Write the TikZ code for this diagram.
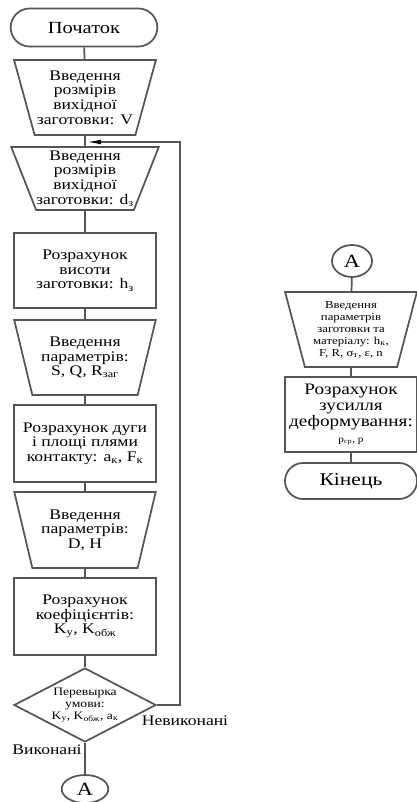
\documentclass[tikz,border=0pt]{standalone}
\usepackage{fontspec}
\setmainfont{Liberation Serif}[FakeStretch=1.2]
\usetikzlibrary{shapes.geometric,shapes.misc,arrows.meta}

\tikzset{every picture/.style={line width=1.3pt}}
\tikzset{
  fline/.style={draw={rgb, 255:red, 85; green, 85; blue, 85}},
  termbox/.style={fline, rounded rectangle, minimum width=110pt, minimum height=28.5pt, inner sep=0pt, font=\fontsize{12.8}{15}\selectfont},
  inbox/.style={fline, trapezium, shape border rotate=180, trapezium stretches=true, trapezium angle=70, minimum width=106.5pt, minimum height=56.25pt, inner sep=0pt, align=center, font=\fontsize{11}{11}\selectfont},
  calcbox/.style={fline, rectangle, minimum width=106.5pt, minimum height=56.25pt, inner sep=0pt, align=center, font=\fontsize{11}{11}\selectfont},
  testbox/.style={fline, diamond, aspect=2, minimum width=106.5pt, minimum height=55.5pt, inner sep=0pt, align=center, font=\fontsize{8.5}{9}\selectfont},
  joinbox/.style={fline, ellipse, inner sep=0pt, font=\fontsize{14}{16}\selectfont},
  flow/.style={draw={rgb, 255:red, 85; green, 85; blue, 85}},
  tag/.style={inner sep=0pt, font=\fontsize{11}{12}\selectfont}
}

\begin{document}
\begin{tikzpicture}[x=0.75pt,y=0.75pt,yscale=-1,xscale=1]
	\useasboundingbox (0,0) rectangle (417,802);

	%Shape: Terminal [id:start]
	\node [termbox] (start) at (84,27.5) {Початок};
	%Shape: Trapezoid [id:inV]
	\node [inbox] (inV) at (85,97.5) {Введення\\розмірів\\вихідної\\заготовки: V};
	%Shape: Trapezoid [id:inD]
	\node [inbox, minimum height=47.25pt, trapezium angle=66] (inD) at (85,178.5) {Введення\\розмірів\\вихідної\\заготовки: d\textsubscript{з}};
	%Shape: Rectangle [id:calcH]
	\node [calcbox] (calcH) at (85,270.5) {Розрахунок\\висоти\\заготовки: h\textsubscript{з}};
	%Shape: Trapezoid [id:inS]
	\node [inbox] (inS) at (85,357.5) {Введення\\параметрів:\\S, Q, R\textsubscript{заг}};
	%Shape: Rectangle [id:calcA]
	\node [calcbox, minimum height=57.75pt] (calcA) at (85,443.5) {Розрахунок дуги\\і площі плями\\контакту: a\textsubscript{к}, F\textsubscript{к}};
	%Shape: Trapezoid [id:inDH]
	\node [inbox, minimum height=57pt] (inDH) at (85,530) {Введення\\параметрів:\\D, H};
	%Shape: Rectangle [id:calcK]
	\node [calcbox, minimum height=57.75pt] (calcK) at (85,616.5) {Розрахунок\\коефіцієнтів:\\K\textsubscript{у}, K\textsubscript{обж}};
	%Shape: Diamond [id:check]
	\node [testbox] (check) at (85,705) {Перевырка\\умови:\\K\textsubscript{у}, K\textsubscript{обж}, a\textsubscript{к}};
	%Shape: Circle [id:outA]
	\node [joinbox, minimum width=35pt, minimum height=21pt] (outA) at (85,789) {A};

	%Shape: Circle [id:inA]
	\node [joinbox, minimum width=30pt, minimum height=24pt] (inA) at (352,261) {A};
	%Shape: Trapezoid [id:inMat]
	\node [inbox, minimum width=99pt, trapezium angle=74, font=\fontsize{8}{9}\selectfont] (inMat) at (351,329.5) {Введення\\параметрів\\заготовки та\\матеріалу: h\textsubscript{к},\\F, R, σ\textsubscript{т}, ε, n};
	%Shape: Rectangle [id:calcP]
	\node [calcbox, minimum width=99pt, font=\fontsize{12}{12}\selectfont] (calcP) at (351,414.5) {Розрахунок\\зусилля\\деформування:\\{\fontsize{7}{9}\selectfont p\textsubscript{ср}, p}};
	%Shape: Terminal [id:stop]
	\node [termbox, minimum width=99pt, minimum height=27pt, font=\fontsize{13.5}{15}\selectfont] (stop) at (351,481) {Кінець};

	%Straight Lines
	\coordinate (join) at (85,142);
	\coordinate (loop) at (180,142);
	\draw [flow] (start) -- (inV);
	\draw [flow] (inV) -- (inD);
	\draw [flow] (inD) -- (calcH);
	\draw [flow] (calcH) -- (inS);
	\draw [flow] (inS) -- (calcA);
	\draw [flow] (calcA) -- (inDH);
	\draw [flow] (inDH) -- (calcK);
	\draw [flow] (calcK) -- (check);
	\draw [flow] (check) -- (outA);
	\draw [flow, -{Latex[length=12pt,width=3.5pt,black]}] (check.east) -| (loop) -- (join);

	\draw [flow] (inA) -- (inMat);
	\draw [flow] (inMat) -- (calcP);
	\draw [flow] (calcP) -- (stop);

	% Text Node
	\node [tag] (no) at (185,721) {Невиконані};
	% Text Node
	\node [tag] (yes) at (47,750) {Виконані};

\end{tikzpicture}
\end{document}
